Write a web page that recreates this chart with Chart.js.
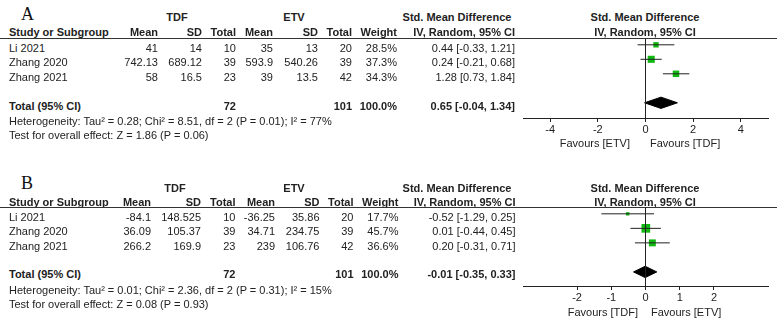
<!DOCTYPE html>
<html>
<head>
<meta charset="utf-8">
<script src="https://cdn.jsdelivr.net/npm/chart.js@4/dist/chart.umd.min.js"></script>
<style>
  html, body { margin: 0; padding: 0; background: #fff; }
  #wrap { position: relative; width: 777px; height: 318px; overflow: hidden; background: #fff; }
  .t { position: absolute; white-space: nowrap; font-family: "Liberation Sans", Arial, sans-serif; font-size: 11px; color: #222; height: 16px; line-height: 16px; }
  .b { font-weight: bold; }
  .hl { position: absolute; left: 0; width: 777px; height: 1px; background: #333; }
  canvas { position: absolute; }
</style>
</head>
<body>
<div id="wrap">
  <canvas id="cA" width="277" height="110" style="left:500px; top:30px;"></canvas>
  <canvas id="cB" width="277" height="109" style="left:500px; top:199px;"></canvas>
</div>
<script>
// ---------------- DATA ----------------
const studies = ["Li 2021", "Zhang 2020", "Zhang 2021"];

// Panel A
const aTdfMean = [41, 742.13, 58];
const aTdfSD   = [14, 689.12, 16.5];
const aTdfN    = [10, 39, 23];
const aEtvMean = [35, 593.9, 39];
const aEtvSD   = [13, 540.26, 13.5];
const aEtvN    = [20, 39, 42];
const aWeight  = [28.5, 37.3, 34.3];
const aSmd     = [0.44, 0.24, 1.28];
const aLo      = [-0.33, -0.21, 0.73];
const aHi      = [1.21, 0.68, 1.84];
const aTotalN  = [72, 101];
const aTotalSmd = [0.65, -0.04, 1.34];
const aHet  = "Heterogeneity: Tau\u00B2 = 0.28; Chi\u00B2 = 8.51, df = 2 (P = 0.01); I\u00B2 = 77%";
const aTest = "Test for overall effect: Z = 1.86 (P = 0.06)";
const aTicks = [-4, -2, 0, 2, 4];
const aRange = [-5.14, 5.14];
const aFavours = ["Favours [ETV]", "Favours [TDF]"];

// Panel B
const bTdfMean = [-84.1, 36.09, 266.2];
const bTdfSD   = [148.525, 105.37, 169.9];
const bTdfN    = [10, 39, 23];
const bEtvMean = [-36.25, 34.71, 239];
const bEtvSD   = [35.86, 234.75, 106.76];
const bEtvN    = [20, 39, 42];
const bWeight  = [17.7, 45.7, 36.6];
const bSmd     = [-0.52, 0.01, 0.20];
const bLo      = [-1.29, -0.44, -0.31];
const bHi      = [0.25, 0.45, 0.71];
const bTotalN  = [72, 101];
const bTotalSmd = [-0.01, -0.35, 0.33];
const bHet  = "Heterogeneity: Tau\u00B2 = 0.01; Chi\u00B2 = 2.36, df = 2 (P = 0.31); I\u00B2 = 15%";
const bTest = "Test for overall effect: Z = 0.08 (P = 0.93)";
const bTicks = [-2, -1, 0, 1, 2];
const bRange = [-3.58, 3.58];
const bFavours = ["Favours [TDF]", "Favours [ETV]"];

// ---------------- TEXT ----------------
const wrap = document.getElementById('wrap');
function txt(s, x, y, align, bold, extra) {
  const d = document.createElement('div');
  d.className = 't' + (bold ? ' b' : '');
  d.textContent = s;
  d.style.top = (y - 8) + 'px';
  if (align === 'right') { d.style.left = (x - 300) + 'px'; d.style.width = '300px'; d.style.textAlign = 'right'; }
  else if (align === 'center') { d.style.left = (x - 150) + 'px'; d.style.width = '300px'; d.style.textAlign = 'center'; }
  else { d.style.left = x + 'px'; }
  if (extra) Object.assign(d.style, extra);
  wrap.appendChild(d);
  return d;
}
function hline(y) {
  const d = document.createElement('div');
  d.className = 'hl';
  d.style.top = y + 'px';
  wrap.appendChild(d);
}
const fmt2 = v => v.toFixed(2);
const ci = (m, l, h) => `${fmt2(m)} [${fmt2(l)}, ${fmt2(h)}]`;

function table(p) {
  txt(p.letter, 21, p.yLetter, 'left', false, {fontFamily: '"Liberation Serif", "Times New Roman", serif', fontSize: '18px', height: '22px', lineHeight: '22px', color: '#111'});
  txt("TDF", p.cTdf, p.yH1, 'center', true);
  txt("ETV", 294, p.yH1, 'center', true);
  txt("Std. Mean Difference", 457, p.yH1, 'center', true);
  txt("Std. Mean Difference", 645, p.yH1, 'center', true);
  txt("Study or Subgroup", 9, p.yH2, 'left', true);
  const heads = ["Mean", "SD", "Total", "Mean", "SD", "Total", "Weight", "IV, Random, 95% CI"];
  heads.forEach((h, i) => txt(h, p.cols[i], p.yH2, 'right', true));
  txt("IV, Random, 95% CI", 645, p.yH2, 'center', true);
  hline(p.yLine);
  studies.forEach((s, i) => {
    const y = p.rows[i];
    txt(s, 9, y, 'left');
    const vals = [p.tm[i], p.ts[i], p.tn[i], p.em[i], p.es[i], p.en[i], p.w[i].toFixed(1) + '%', ci(p.smd[i], p.lo[i], p.hi[i])];
    vals.forEach((v, j) => txt(String(v), p.cols[j], y, 'right'));
  });
  txt("Total (95% CI)", 9, p.yTot, 'left', true);
  txt(String(p.totN[0]), p.cols[2], p.yTot, 'right', true);
  txt(String(p.totN[1]), p.cols[5], p.yTot, 'right', true);
  txt("100.0%", p.cols[6], p.yTot, 'right', true);
  txt(ci(p.tot[0], p.tot[1], p.tot[2]), p.cols[7], p.yTot, 'right', true);
  txt(p.het, 9, p.yHet, 'left');
  txt(p.test, 9, p.yTest, 'left');
  txt(p.fav[0], p.favL, p.yFav, 'right');
  txt(p.fav[1], p.favR, p.yFav, 'left');
}

table({letter: "A", yLetter: 11, cTdf: 177, yH1: 17, yH2: 32, yLine: 37.5,
  cols: [158, 202, 236, 273, 318, 352, 397, 515],
  rows: [48.3, 62.3, 77], yTot: 106, yHet: 120.7, yTest: 135, yFav: 143,
  tm: aTdfMean, ts: aTdfSD, tn: aTdfN, em: aEtvMean, es: aEtvSD, en: aEtvN, w: aWeight,
  smd: aSmd, lo: aLo, hi: aHi, totN: aTotalN, tot: aTotalSmd, het: aHet, test: aTest,
  fav: aFavours, favL: 630, favR: 650});

table({letter: "B", yLetter: 180, cTdf: 175, yH1: 187.5, yH2: 201.7, yLine: 206.5,
  cols: [151, 201, 235.5, 275, 319.5, 353.5, 398.5, 515.5],
  rows: [217.3, 231, 246], yTot: 274.3, yHet: 290, yTest: 304.3, yFav: 312,
  tm: bTdfMean, ts: bTdfSD, tn: bTdfN, em: bEtvMean, es: bEtvSD, en: bEtvN, w: bWeight,
  smd: bSmd, lo: bLo, hi: bHi, totN: bTotalN, tot: bTotalSmd, het: bHet, test: bTest,
  fav: bFavours, favL: 638, favR: 651});

// ---------------- CHARTS ----------------
const GREEN = '#12b812';
const INK = '#222';
function forest(id, p) {
  const n = p.smd.length;
  const totRow = n + 2;
  const dh = 0.39;
  const ds = [];
  ds.push({data: [{x: 0, y: p.yMin}, {x: 0, y: p.yMax}], showLine: true, borderColor: INK, borderWidth: 1, pointRadius: 0});
  p.smd.forEach((v, i) => {
    ds.push({data: [{x: p.lo[i], y: i + 1}, {x: p.hi[i], y: i + 1}], showLine: true, borderColor: INK, borderWidth: 1, pointRadius: 0});
  });
  ds.push({data: p.smd.map((v, i) => ({x: v, y: i + 1})), pointStyle: 'rect',
    pointRadius: p.w.map(w => w * 0.19 / (2 * Math.SQRT1_2)), backgroundColor: GREEN, borderColor: GREEN, borderWidth: 0});
  const [m, l, h] = p.tot;
  ds.push({data: [{x: l, y: totRow}, {x: m, y: totRow - dh}, {x: h, y: totRow}, {x: m, y: totRow + dh}, {x: l, y: totRow}],
    showLine: true, fill: 'shape', backgroundColor: '#000', borderColor: '#000', borderWidth: 1, pointRadius: 0, tension: 0});
  return new Chart(document.getElementById(id), {
    type: 'scatter',
    data: {datasets: ds},
    options: {
      responsive: false, animation: false, events: [],
      layout: {padding: {top: 8, left: 23, right: 9, bottom: 0}},
      plugins: {legend: {display: false}, tooltip: {enabled: false}},
      scales: {
        x: {type: 'linear', min: p.range[0], max: p.range[1],
          afterBuildTicks: s => { s.ticks = p.ticks.map(v => ({value: v})); },
          afterFit: s => { s.height = 22; },
          grid: {drawOnChartArea: false, drawTicks: true, tickLength: 4, color: INK},
          border: {display: true, color: INK, width: 1},
          ticks: {padding: 1, color: INK, autoSkip: false, maxRotation: 0,
            font: {family: '"Liberation Sans", Arial, sans-serif', size: 11}}},
        y: {type: 'linear', display: false, reverse: true, min: p.yMin, max: p.yMax}
      }
    }
  });
}
forest('cA', {smd: aSmd, lo: aLo, hi: aHi, w: aWeight, tot: aTotalSmd, ticks: aTicks, range: aRange, yMin: 0.53, yMax: 6.05});
forest('cB', {smd: bSmd, lo: bLo, hi: bHi, w: bWeight, tot: bTotalSmd, ticks: bTicks, range: bRange, yMin: 0.53, yMax: 5.97});
</script>
</body>
</html>
